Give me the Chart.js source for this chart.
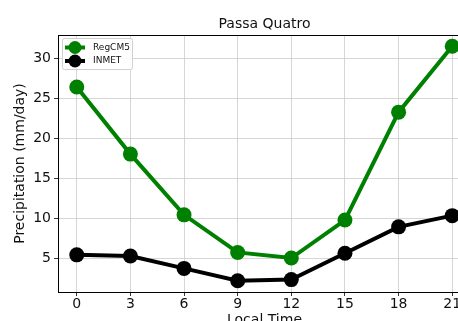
<!DOCTYPE html>
<html>
<head>
<meta charset="utf-8">
<script src="https://cdn.jsdelivr.net/npm/chart.js@4/dist/chart.umd.min.js"></script>
<style>
  html, body { margin: 0; padding: 0; overflow: hidden; background: #fff; width: 458px; height: 321px; }
  canvas { display: block; }
</style>
</head>
<body>
<canvas id="c" width="480" height="335"></canvas>
<script>
// Diurnal cycle of precipitation at Passa Quatro (mm/day) by local hour
const hours = [0, 3, 6, 9, 12, 15, 18, 21];
const regcm5 = [26.4, 18.0, 10.4, 5.7, 5.0, 9.75, 23.25, 31.5];
const inmet = [5.4, 5.25, 3.7, 2.15, 2.3, 5.6, 8.9, 10.3];
const yTicks = [5, 10, 15, 20, 25, 30];
const xTicks = [0, 3, 6, 9, 12, 15, 18, 21];

const FONT = "'DejaVu Sans', sans-serif";
const TEXT = '#111';

const toPoints = vals => hours.map((h, i) => ({ x: h, y: vals[i] }));

// Black frame around the plot area plus an in-plot legend in the upper left
const frameAndLegend = {
  id: 'frameAndLegend',
  afterDatasetsDraw(chart) {
    const { ctx, chartArea: a } = chart;
    ctx.save();
    ctx.strokeStyle = '#000';
    ctx.lineWidth = 1;
    ctx.strokeRect(Math.round(a.left) + 0.5, Math.round(a.top) + 0.5,
                   Math.round(a.right - a.left), Math.round(a.bottom - a.top));

    // legend box
    const bx = a.left + 4.5, by = a.top + 3.5, bw = 70, bh = 31;
    ctx.fillStyle = 'rgba(255,255,255,0.85)';
    ctx.strokeStyle = '#d0d0d0';
    ctx.lineWidth = 1;
    ctx.beginPath();
    ctx.roundRect(bx, by, bw, bh, 2);
    ctx.fill();
    ctx.stroke();

    const rows = chart.data.datasets.map((ds, i) => ({
      label: ds.label, color: ds.borderColor, y: a.top + 12.5 + i * 13.5
    }));
    rows.forEach(r => {
      ctx.strokeStyle = r.color;
      ctx.lineWidth = 4;
      ctx.beginPath();
      ctx.moveTo(a.left + 7, r.y);
      ctx.lineTo(a.left + 27, r.y);
      ctx.stroke();
      ctx.fillStyle = r.color;
      ctx.beginPath();
      ctx.arc(a.left + 17, r.y, 6.5, 0, Math.PI * 2);
      ctx.fill();
      ctx.fillStyle = TEXT;
      ctx.font = "9px " + FONT;
      ctx.textAlign = 'left';
      ctx.textBaseline = 'middle';
      ctx.fillText(r.label, a.left + 35, r.y);
    });
    ctx.restore();
  }
};

new Chart(document.getElementById('c'), {
  type: 'line',
  data: {
    datasets: [
      {
        label: 'RegCM5',
        data: toPoints(regcm5),
        borderColor: '#008000',
        backgroundColor: '#008000',
        borderWidth: 4,
        pointRadius: 7.5,
        pointBorderWidth: 0,
        pointBackgroundColor: '#008000',
        tension: 0
      },
      {
        label: 'INMET',
        data: toPoints(inmet),
        borderColor: '#000000',
        backgroundColor: '#000000',
        borderWidth: 4,
        pointRadius: 7.5,
        pointBorderWidth: 0,
        pointBackgroundColor: '#000000',
        tension: 0
      }
    ]
  },
  options: {
    responsive: false,
    animation: false,
    devicePixelRatio: 1,
    layout: { padding: { left: 0, top: 0, right: 9, bottom: 0 } },
    plugins: {
      legend: { display: false },
      tooltip: { enabled: false },
      title: {
        display: true,
        text: 'Passa Quatro',
        fullSize: false,
        color: TEXT,
        font: { family: FONT, size: 14, weight: 'normal', lineHeight: 1.2 },
        padding: { top: 16, bottom: 2.2 }
      }
    },
    scales: {
      x: {
        type: 'linear',
        min: -1.05,
        max: 22.05,
        afterBuildTicks: s => { s.ticks = xTicks.map(v => ({ value: v })); },
        afterFit: s => { s.height = 43; },
        grid: { color: '#cccccc', lineWidth: 0.8, tickColor: '#000', tickLength: 4 },
        border: { display: false },
        ticks: { color: TEXT, font: { family: FONT, size: 14 }, padding: 0, maxRotation: 0, autoSkip: false },
        title: {
          display: true,
          text: 'Local Time',
          color: TEXT,
          font: { family: FONT, size: 14, lineHeight: 1.2 },
          padding: { top: 0, bottom: 6 }
        }
      },
      y: {
        type: 'linear',
        min: 0.75,
        max: 32.9,
        afterBuildTicks: s => { s.ticks = yTicks.map(v => ({ value: v })); },
        afterFit: s => { s.width = 58; },
        grid: { color: '#cccccc', lineWidth: 0.8, tickColor: '#000', tickLength: 4 },
        border: { display: false },
        ticks: { color: TEXT, font: { family: FONT, size: 14 }, padding: 3 },
        title: {
          display: true,
          text: 'Precipitation (mm/day)',
          color: TEXT,
          font: { family: FONT, size: 14, lineHeight: 1.2 },
          padding: { top: 12, bottom: 0 }
        }
      }
    }
  },
  plugins: [frameAndLegend]
});
</script>
</body>
</html>
